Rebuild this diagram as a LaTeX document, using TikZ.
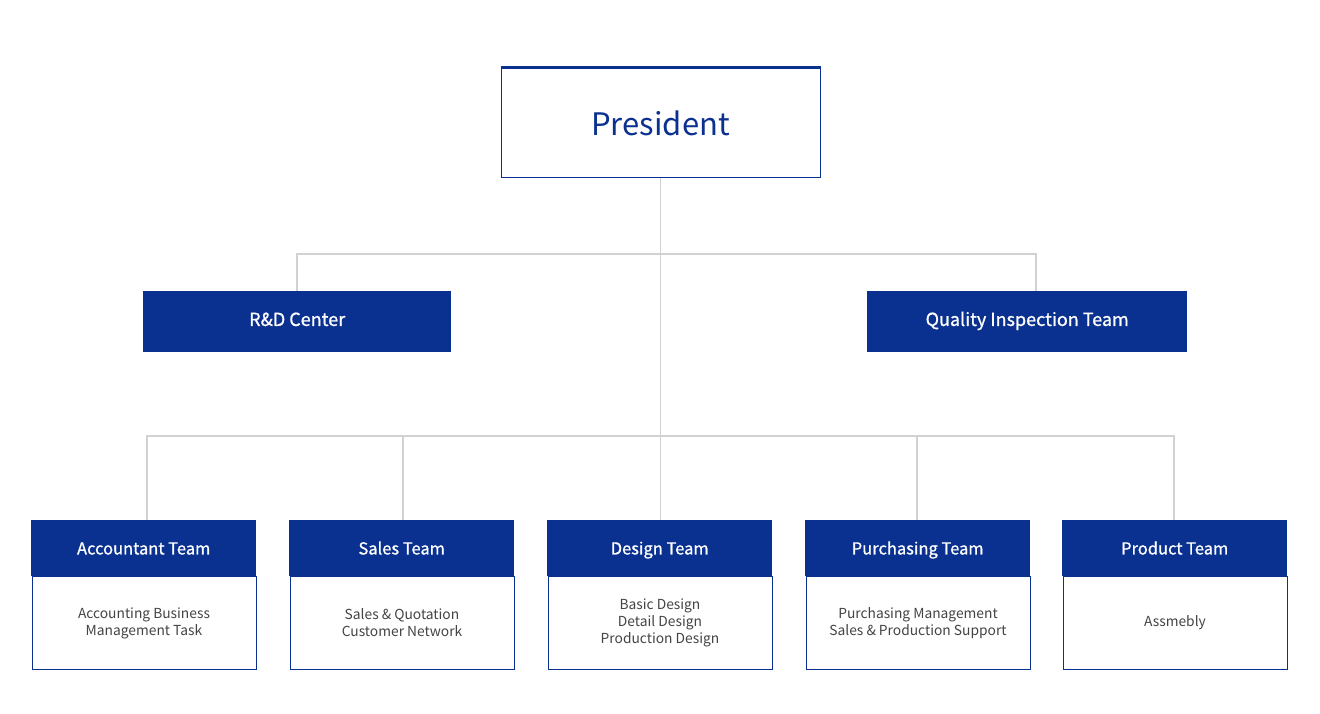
\documentclass[tikz,border=0pt]{standalone}
\usepackage{fontspec}
\setmainfont{Noto Sans CJK KR}
\newfontfamily\medfont[FakeBold=0.9]{Noto Sans CJK KR}
\definecolor{navy}{HTML}{0A318F}
\definecolor{linegray}{HTML}{D2D2D2}
\definecolor{bodytext}{HTML}{444444}
\begin{document}
\begin{tikzpicture}[x=1pt,y=-1pt,
  conn/.style={draw=linegray,line width=1.3pt},
  headbox/.style={fill=navy,draw=none,text=white,font=\medfont\fontsize{16.5}{20}\selectfont,minimum width=225pt,minimum height=56pt,text height=13pt,text depth=0.5pt,inner sep=0pt,anchor=north west},
  bodybox/.style={fill=white,draw=navy,line width=1pt,text=bodytext,font=\fontsize{13.8}{17}\selectfont,align=center,minimum width=224pt,minimum height=93pt,inner sep=0pt,anchor=north west},
  midbox/.style={fill=navy,draw=none,text=white,font=\medfont\fontsize{18}{21}\selectfont,minimum height=61pt,text height=13pt,text depth=4.5pt,inner sep=0pt,anchor=north west}]
\useasboundingbox (0,0) rectangle (1320,713);
\fill[white] (0,0) rectangle (1320,713);
% President
\node[draw=navy,line width=1.2pt,fill=white,minimum width=319pt,minimum height=109pt,inner sep=0pt,anchor=north west,text=navy,font=\fontsize{31}{36}\selectfont] (pres) at (500.5,68) {President};
\fill[navy] (pres.north west) rectangle ([yshift=2.5pt]pres.north east);
% middle level
\node[midbox,minimum width=308pt] (rd) at (143,291) {R\&D Center};
\node[midbox,minimum width=320pt] (qit) at (867,291) {Quality Inspection Team};
% bottom teams
\foreach \n/\x/\h/\b in {acc/31/Accountant Team/{Accounting Business\\Management Task},
  sal/289/Sales Team/{Sales \& Quotation\\Customer Network},
  des/547/Design Team/{Basic Design\\Detail Design\\Production Design},
  pur/805/Purchasing Team/{Purchasing Management\\Sales \& Production Support},
  pro/1062/Product Team/{Assmebly}}{
  \node[bodybox] (\n b) at (\x+0.5,576) {\b};
  \node[headbox] (\n) at (\x,520) {\h};
}
% connectors
\coordinate (hubA) at (pres.south |- 0,254);
\coordinate (hubB) at (pres.south |- 0,436);
\coordinate (rdtop) at (297,291);
\coordinate (qittop) at (1036,291);
\coordinate (acctop) at (147,520);
\coordinate (saltop) at (403,520);
\coordinate (destop) at (pres.south |- 0,520);
\coordinate (purtop) at (917,520);
\coordinate (protop) at (1174,520);
\draw[conn] (pres.south) -- (hubA) -- (hubB) -- (destop);
\draw[conn] (hubA) -| (rdtop);
\draw[conn] (hubA) -| (qittop);
\draw[conn] (hubB) -| (acctop);
\draw[conn] (hubB) -| (saltop);
\draw[conn] (hubB) -| (purtop);
\draw[conn] (hubB) -| (protop);
\end{tikzpicture}
\end{document}
